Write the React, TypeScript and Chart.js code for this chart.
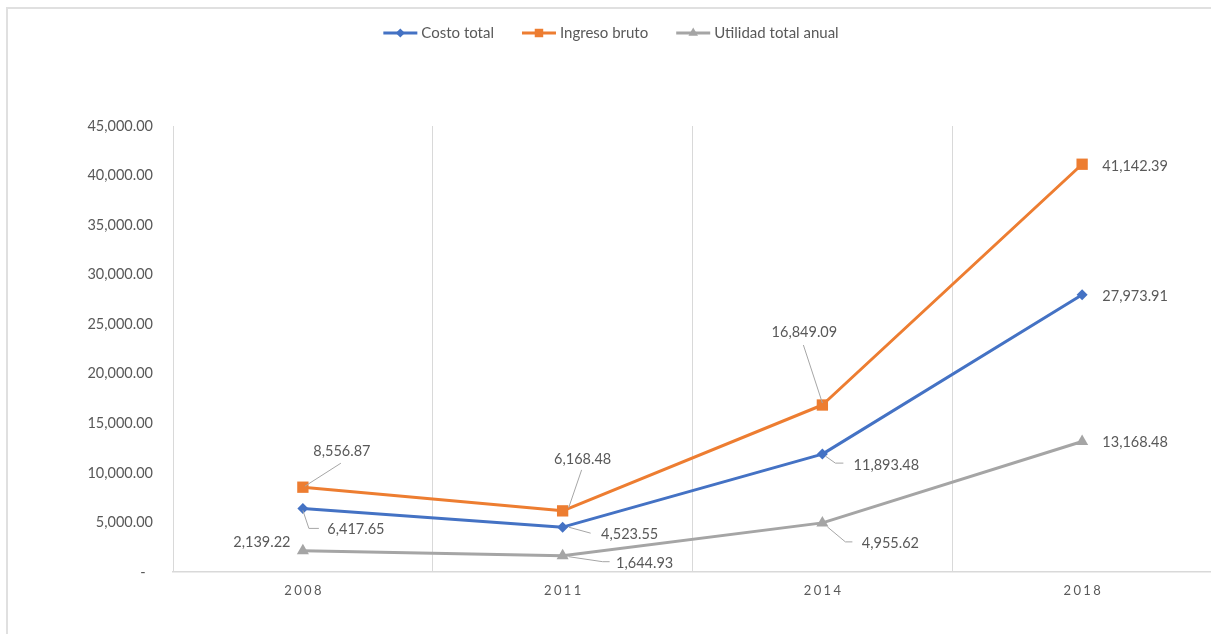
import React, { useEffect, useRef } from 'react';
import { Chart, registerables } from 'chart.js';

Chart.register(...registerables);

// ---- data ----
const years = ['2008', '2011', '2014', '2018'];
const costoTotal = [6417.65, 4523.55, 11893.48, 27973.91];
const ingresoBruto = [8556.87, 6168.48, 16849.09, 41142.39];
const utilidadTotalAnual = [2139.22, 1644.93, 4955.62, 13168.48];
const seriesNames = ['Costo total', 'Ingreso bruto', 'Utilidad total anual'];
const yMin = 0;
const yMax = 45000;
const yStep = 5000;

// ---- styles ----
const FONT = 'Lato, "Open Sans", sans-serif';
const TEXT = '#595959';
const GRID = '#d9d9d9';
const colors = ['#4472C4', '#ED7D31', '#A5A5A5'];
const pointStyles = ['rectRot', 'rect', 'triangle'];
const pointRadii = [5.5, 8, 7];

// data-label placement (offsets of label centre from point, leader polyline)
type Lbl = { dx: number; dy: number; leader?: number[][] };
const labelLayout: Lbl[][] = [
  [
    { dx: 53, dy: 21, leader: [[0, 2], [6, 20], [16, 20]] },
    { dx: 67, dy: 7, leader: [[6, 0], [28, 6]] },
    { dx: 64, dy: 11, leader: [[3, 2], [13, 9], [21, 9]] },
    { dx: 53, dy: 2 },
  ],
  [
    { dx: 39, dy: -36, leader: [[2, -1], [38, -24]] },
    { dx: 20, dy: -52, leader: [[6, -3], [19, -41]] },
    { dx: -18, dy: -73, leader: [[0, -2], [-19, -60]] },
    { dx: 53, dy: 2 },
  ],
  [
    { dx: -41, dy: -8 },
    { dx: 82, dy: 8, leader: [[6, 1], [40, 6], [47, 6]] },
    { dx: 68, dy: 20, leader: [[5, 4], [23, 19], [30, 19]] },
    { dx: 53, dy: 1 },
  ],
];

const fmt = (v: number) =>
  v.toLocaleString('en-US', { minimumFractionDigits: 2, maximumFractionDigits: 2 });

function drawMarker(ctx: CanvasRenderingContext2D, style: string, x: number, y: number, r: number, color: string) {
  ctx.save();
  ctx.fillStyle = color;
  ctx.beginPath();
  if (style === 'rect') {
    const s = Math.SQRT1_2 * r;
    ctx.rect(x - s, y - s, 2 * s, 2 * s);
  } else if (style === 'rectRot') {
    ctx.moveTo(x, y - r);
    ctx.lineTo(x + r, y);
    ctx.lineTo(x, y + r);
    ctx.lineTo(x - r, y);
    ctx.closePath();
  } else {
    const a = (2 * Math.PI) / 3;
    ctx.moveTo(x, y - r);
    ctx.lineTo(x + Math.sin(a) * r, y - Math.cos(a) * r);
    ctx.lineTo(x + Math.sin(2 * a) * r, y - Math.cos(2 * a) * r);
    ctx.closePath();
  }
  ctx.fill();
  ctx.restore();
}

const extrasPlugin = {
  id: 'extras',
  afterDraw(chart: any) {
    const ctx: CanvasRenderingContext2D = chart.ctx;
    ctx.save();

    // data labels with leader lines
    chart.data.datasets.forEach((ds: any, si: number) => {
      const meta = chart.getDatasetMeta(si);
      meta.data.forEach((pt: any, i: number) => {
        const L = labelLayout[si][i];
        if (L.leader) {
          ctx.strokeStyle = '#a6a6a6';
          ctx.lineWidth = 1;
          ctx.beginPath();
          L.leader.forEach((p, k) => {
            if (k === 0) ctx.moveTo(pt.x + p[0], pt.y + p[1]);
            else ctx.lineTo(pt.x + p[0], pt.y + p[1]);
          });
          ctx.stroke();
        }
        ctx.fillStyle = TEXT;
        ctx.font = `14.5px ${FONT}`;
        ctx.textAlign = 'center';
        ctx.textBaseline = 'middle';
        ctx.fillText(fmt(ds.data[i]), pt.x + L.dx, pt.y + L.dy);
      });
    });

    // x-axis labels (letter-spaced)
    const xs = chart.scales.x;
    ctx.font = `13px ${FONT}`;
    ctx.fillStyle = TEXT;
    ctx.textAlign = 'left';
    ctx.textBaseline = 'middle';
    const spacing = 2.4;
    years.forEach((lab, i) => {
      const cx = xs.getPixelForValue(i);
      const chars = lab.split('');
      const widths = chars.map((c) => ctx.measureText(c).width);
      const total = widths.reduce((a, b) => a + b, 0) + spacing * (chars.length - 1);
      let x = cx - total / 2;
      chars.forEach((c, k) => {
        ctx.fillText(c, x, 591);
        x += widths[k] + spacing;
      });
    });

    // legend
    ctx.font = `15px ${FONT}`;
    const lineW = 34;
    const gapText = 4;
    const gapItem = 28;
    const tw = seriesNames.map((n) => ctx.measureText(n).width);
    const totalW = tw.reduce((a, b) => a + b + lineW + gapText, 0) + gapItem * (seriesNames.length - 1);
    let lx = 611 - totalW / 2;
    const ly = 33;
    const legendR = [4.5, 6, 5.5];
    seriesNames.forEach((n, i) => {
      ctx.strokeStyle = colors[i];
      ctx.lineWidth = 3;
      ctx.beginPath();
      ctx.moveTo(lx, ly);
      ctx.lineTo(lx + lineW, ly);
      ctx.stroke();
      drawMarker(ctx, pointStyles[i], lx + lineW / 2, ly, legendR[i], colors[i]);
      ctx.fillStyle = TEXT;
      ctx.textAlign = 'left';
      ctx.textBaseline = 'middle';
      ctx.fillText(n, lx + lineW + gapText, ly);
      lx += lineW + gapText + tw[i] + gapItem;
    });

    ctx.restore();
  },
};

export default function App() {
  const ref = useRef<HTMLCanvasElement | null>(null);

  useEffect(() => {
    if (!ref.current) return;
    const seriesData = [costoTotal, ingresoBruto, utilidadTotalAnual];
    const chart = new Chart(ref.current, {
      type: 'line',
      data: {
        labels: years,
        datasets: seriesNames.map((name, i) => ({
          label: name,
          data: seriesData[i],
          borderColor: colors[i],
          backgroundColor: colors[i],
          borderWidth: 3,
          tension: 0,
          borderJoinStyle: 'round',
          borderCapStyle: 'round',
          pointStyle: pointStyles[i],
          pointRadius: pointRadii[i],
          pointBorderWidth: 0,
          pointBackgroundColor: colors[i],
          pointBorderColor: colors[i],
          fill: false,
          clip: false,
        })) as any,
      },
      options: {
        responsive: false,
        animation: false,
        devicePixelRatio: 1,
        layout: { padding: { top: 126, right: 28, bottom: 88, left: 0 } },
        plugins: {
          legend: { display: false },
          tooltip: { enabled: false },
        },
        scales: {
          x: {
            offset: true,
            grid: {
              display: true,
              offset: true,
              color: (c: any) => (c.index >= years.length ? 'rgba(0,0,0,0)' : GRID),
              lineWidth: 1,
              drawTicks: false,
            },
            border: { display: true, color: GRID, width: 1.5 },
            ticks: { display: false },
            afterFit: (s: any) => { s.height = 0; },
          },
          y: {
            min: yMin,
            max: yMax,
            grid: { display: false, drawTicks: false },
            border: { display: false },
            ticks: {
              stepSize: yStep,
              padding: 20,
              color: TEXT,
              font: { family: FONT, size: 14.5 },
              callback: (v: any) => (Number(v) === 0 ? '-  ' : fmt(Number(v))),
            },
            afterFit: (s: any) => { s.width = 173; },
          },
        },
      } as any,
      plugins: [extrasPlugin],
    });
    return () => chart.destroy();
  }, []);

  return (
    <div style={{ position: 'fixed', left: 0, top: 0, width: 1211, height: 634, overflow: 'hidden', background: '#fff' }}>
      <div
        style={{
          position: 'absolute', left: 6, top: 7, width: 1400, height: 800,
          borderLeft: '2px solid #e0e0e0', borderTop: '2px solid #e0e0e0',
        }}
      />
      <canvas ref={ref} width={1240} height={660} style={{ position: 'absolute', left: 0, top: 0 }} />
    </div>
  );
}
